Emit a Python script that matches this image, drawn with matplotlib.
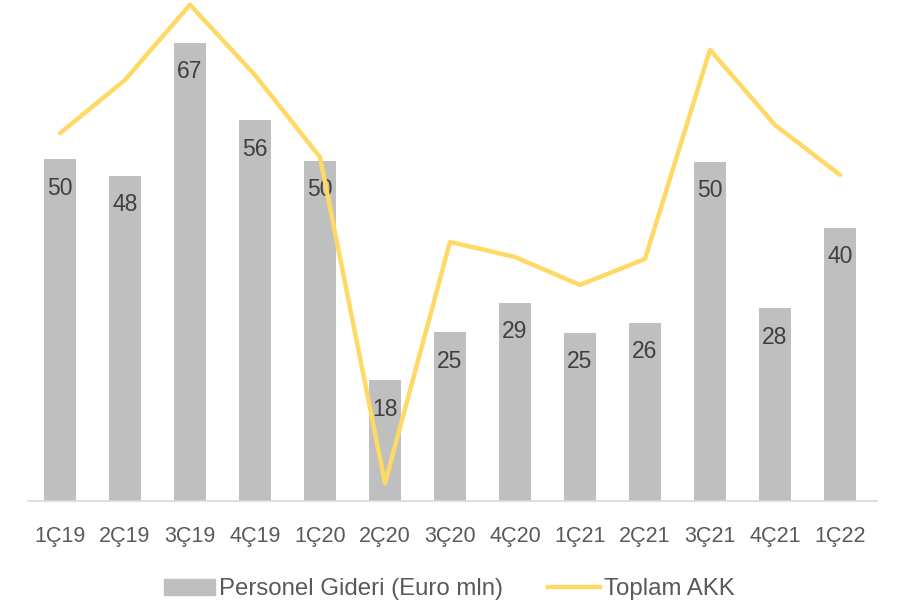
import matplotlib.pyplot as plt
from matplotlib.patches import Patch
from matplotlib.lines import Line2D

# quarters, personnel expense (Euro mln) and total AKK (hidden 2nd axis)
quarters = ['1Ç19', '2Ç19', '3Ç19', '4Ç19', '1Ç20', '2Ç20', '3Ç20',
            '4Ç20', '1Ç21', '2Ç21', '3Ç21', '4Ç21', '1Ç22']
personel = [50, 47.6, 67, 55.7, 49.8, 17.7, 24.7, 29, 24.6, 26.1, 49.6, 28.2, 40]
akk = [53.8, 61.6, 72.6, 62.3, 50.3, 2.6, 37.9, 35.7, 31.6, 35.4, 66.0, 55.0, 47.7]

font = ['Liberation Sans', 'DejaVu Sans']
bar_color = '#bfbfbf'
line_color = '#ffd966'

fig = plt.figure(figsize=(8.97, 6.06), dpi=100)
ax = fig.add_axes([27.5 / 897, 105 / 606, 845 / 897, 501 / 606])
x = list(range(len(quarters)))
ax.bar(x, personel, width=0.48, color=bar_color, zorder=2)
ax.set_xlim(-0.5, len(quarters) - 0.5)
ymax = 501 / 6.836
ax.set_ylim(0, ymax)

for i, v in enumerate(personel):
    ax.annotate(f'{v:.0f}', (i, v), xytext=(0, -29), textcoords='offset pixels',
                ha='center', va='center', family=font, fontsize=16.5,
                color='#404040', zorder=3)

ax2 = ax.twinx()
ax2.set_ylim(0, ymax)
ax2.plot(x, akk, color=line_color, lw=3.2, clip_on=False, solid_capstyle='round', zorder=4)
ax2.axis('off')

for s in ['top', 'right', 'left']:
    ax.spines[s].set_visible(False)
ax.spines['bottom'].set_color('#d9d9d9')
ax.spines['bottom'].set_linewidth(1.2)
ax.spines['bottom'].set_bounds(-0.5, 12.57)
ax.set_yticks([])
ax.set_xticks(x)
ax.set_xticklabels(quarters, family=font, fontsize=15.5, color='#595959')
ax.tick_params(axis='x', length=0, pad=18)

handles = [Patch(color=bar_color, label='Personel Gideri (Euro mln)'),
           Line2D([], [], color=line_color, lw=3.2, label='Toplam AKK')]
fig.legend(handles=handles, loc='center', bbox_to_anchor=(449 / 897, 1 - 589 / 606),
           ncol=2, frameon=False, prop={'family': font, 'size': 17.3},
           labelcolor='#595959', handlelength=2.15, handleheight=0.65,
           handletextpad=0.15, columnspacing=1.9)

fig.savefig('out.png', dpi=100)
